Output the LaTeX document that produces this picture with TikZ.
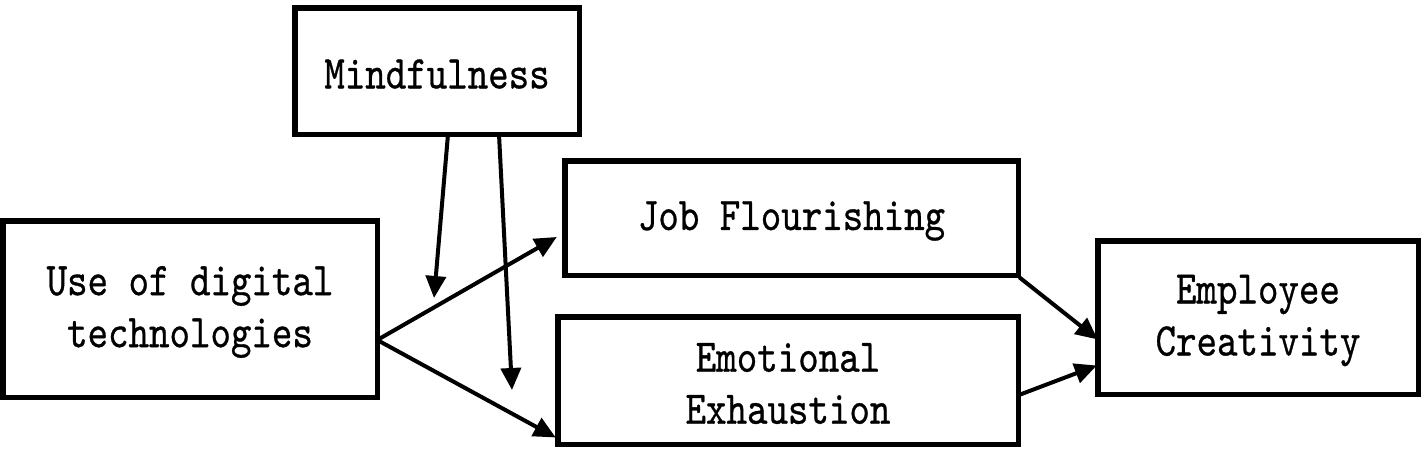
\documentclass[tikz,border=0pt]{standalone}
\usepackage{graphicx}
\usepackage{fontspec}
\setmonofont{lmmono10-regular.otf}[BoldFont=lmmono10-regular.otf,BoldFeatures={FakeBold=0.7}]
\usetikzlibrary{arrows.meta,calc}
\newcommand{\lbl}[1]{\raisebox{-3pt}[\height][\depth]{\scalebox{0.83}[1]{#1}}}
\begin{document}
\begin{tikzpicture}[x=1pt,y=-1pt,
  box/.style={draw=black,line width=5.5pt,inner sep=0pt,outer sep=0pt,align=center,
    font=\fontsize{47}{52}\selectfont\ttfamily\bfseries},
  arr/.style={line width=4pt,-{Triangle[length=22pt,width=20pt]}}]
\useasboundingbox (0,0) rectangle (1425,450);
\node[box,minimum width=284.5pt,minimum height=126.5pt] (mind) at (437,71) {\lbl{Mindfulness}};
\node[box,minimum width=374.5pt,minimum height=176.5pt] (use) at (190,309) {\lbl{Use of digital}\\\lbl{technologies}};
\node[box,minimum width=453.5pt,minimum height=114.5pt] (job) at (791.5,218) {\lbl{Job Flourishing}};
\node[box,minimum width=460.5pt,minimum height=127.5pt] (emo) at (788,380.5) {\lbl{Emotional}\\\lbl{Exhaustion}};
\node[box,minimum width=320.5pt,minimum height=153.5pt] (emp) at (1258,317.5) {\lbl{Employee}\\\lbl{Creativity}};
\coordinate (m1e) at (434,298);
\coordinate (m2e) at (512,390);
\draw[arr] ($(mind.south)+(11,0)$) -- (m1e);
\draw[arr] ($(mind.south)+(62,0)$) -- (m2e);
\draw[arr] ($(use.east)+(0,31)$) -- ($(job.west)+(-8,19)$);
\draw[arr] ($(use.east)+(0,31)$) -- ($(emo.west)+(-2,57)$);
\draw[arr] ($(job.south east)+(1,2)$) -- ($(emp.west)+(0,22)$);
\draw[arr] ($(emo.east)+(2,14)$) -- ($(emp.west)+(-1,48)$);
\end{tikzpicture}
\end{document}
